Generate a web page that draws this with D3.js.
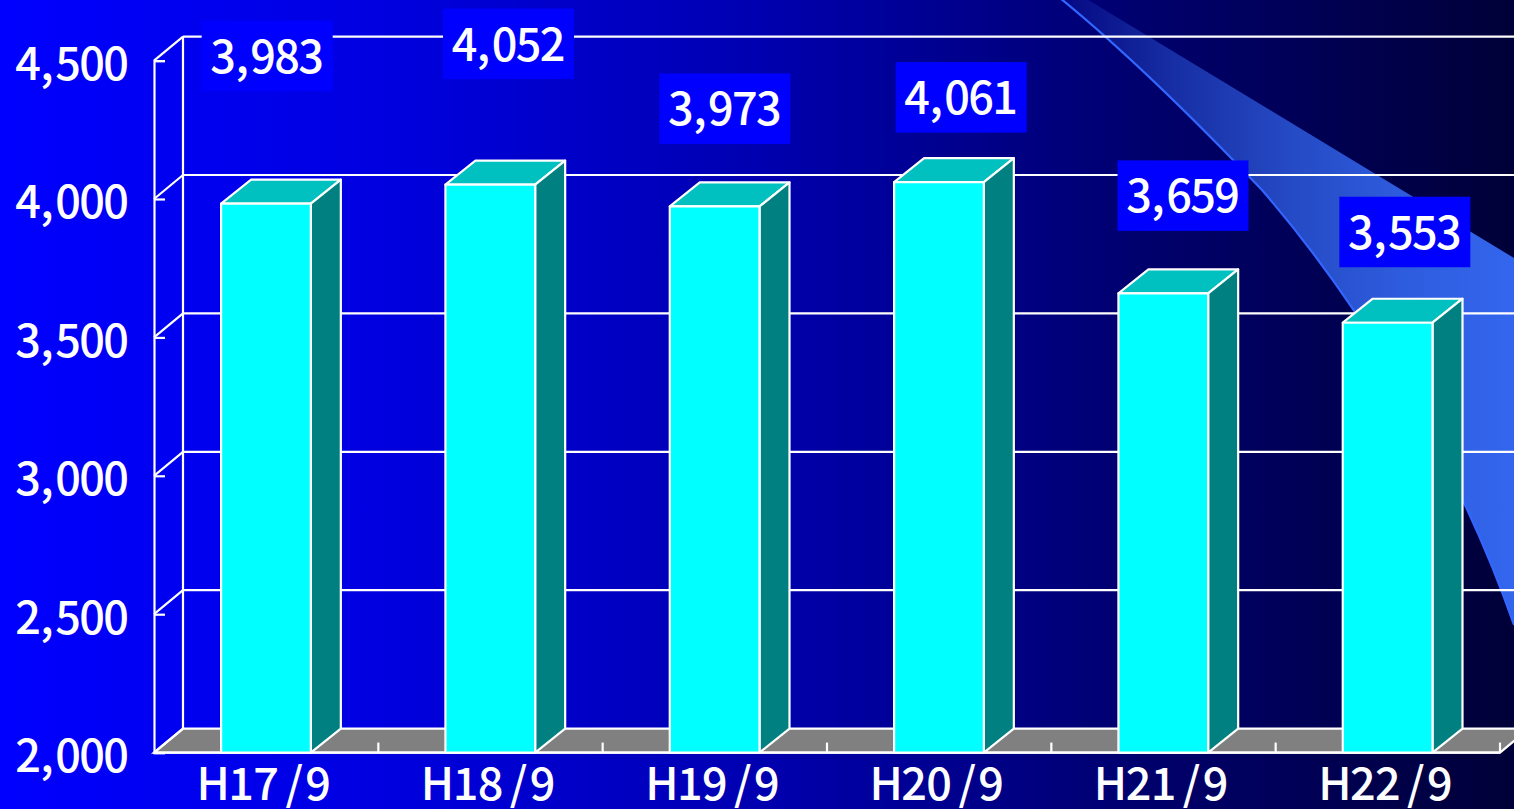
<!DOCTYPE html>
<html><head><meta charset="utf-8">
<script src="https://cdn.jsdelivr.net/npm/d3@7/dist/d3.min.js"></script>
<style>html,body{margin:0;padding:0;background:#000;overflow:hidden}svg{display:block}
text{font-family:"Noto Sans CJK JP","Noto Sans",sans-serif;fill:#fff;font-weight:500}</style></head>
<body><svg id="c" width="1514" height="809"></svg>
<script>
const categories = ["H17/9","H18/9","H19/9","H20/9","H21/9","H22/9"];
const values = [3983,4052,3973,4061,3659,3553];
const yTicks = [2000,2500,3000,3500,4000,4500];
// vertical distance from bar top to its label box, and box centre shift from the bar centre (hand-placed in the original)
const labelRise = [183,176,133,120,133,126];
const labelShift = [1,18,10,22,19.5,17];
// glyph centres relative to the text centre (fixed-pitch look of the original face)
const numberPitch = [-44,-25,-4,20,44];
const categoryPitch = [-53,-25,0,28,52];

const W=1514,H=809, depthX=29, barDepthX=30, depthY=24;
const svg=d3.select("#c");
const x=d3.scaleBand().domain(categories).range([154,1500]).paddingInner(0.6).paddingOuter(0.3);
const y=d3.scaleLinear().domain([2000,4500]).range([752.6,60.6]);
const fmt=d3.format(",");
const defs=svg.append("defs");
const bg=defs.append("linearGradient").attr("id","bg");
[[0,"#0000ff"],[0.25,"#0000e0"],[0.5,"#0000b0"],[0.75,"#00006e"],[1,"#000038"]].forEach(d=>bg.append("stop").attr("offset",d[0]).attr("stop-color",d[1]));
const sw=defs.append("linearGradient").attr("id","sw").attr("gradientUnits","userSpaceOnUse").attr("x1",1060).attr("x2",1514).attr("y1",0).attr("y2",0);
[[0,0.08],[0.25,0.45],[0.5,0.72],[0.75,0.9],[1,1]].forEach(d=>sw.append("stop").attr("offset",d[0]).attr("stop-color","#3366ee").attr("stop-opacity",d[1]));
svg.append("rect").attr("width",W).attr("height",H).attr("fill","url(#bg)");

// decorative swoosh
const lower="M1060,-2 C1130,55 1200,125 1262,190 C1340,280 1450,440 1514,625";
svg.append("path").attr("d",lower+" L1514,258 L1085,-2 Z").attr("fill","url(#sw)");
svg.append("path").attr("d",lower).attr("fill","none").attr("stroke","#3366ff").attr("stroke-width",2.2);

const line="#fff", lw=2.2;
const L=x.range()[0], R=x.range()[1];
const pitched=(sel,cx,pitch)=>sel.attr("text-anchor","middle").attr("x",pitch.map(p=>cx+p).join(" "));
// floor
svg.append("polygon").attr("fill","#808080").attr("stroke",line).attr("stroke-width",lw)
  .attr("points",[[L,y(2000)],[L+depthX,y(2000)-depthY],[R+depthX,y(2000)-depthY],[R,y(2000)]].join(" "));
// back grid + side wall
svg.append("g").selectAll("line").data(yTicks.slice(1)).join("line")
  .attr("x1",L+depthX).attr("x2",W).attr("y1",d=>y(d)-depthY).attr("y2",d=>y(d)-depthY).attr("stroke","#fff").attr("stroke-width",lw);
svg.append("g").selectAll("line").data(yTicks).join("line")
  .attr("x1",L).attr("x2",L+depthX).attr("y1",d=>y(d)).attr("y2",d=>y(d)-depthY).attr("stroke",line).attr("stroke-width",lw);
svg.append("line").attr("x1",L+depthX).attr("x2",L+depthX).attr("y1",y(4500)-depthY).attr("y2",y(2000)-depthY).attr("stroke",line).attr("stroke-width",lw);

// axes
const ya=svg.append("g").attr("transform",`translate(${L},0)`).call(d3.axisLeft(y).tickValues(yTicks).tickFormat(fmt).tickSize(-11).tickPadding(26));
ya.select(".domain").attr("stroke",line).attr("stroke-width",lw);
ya.selectAll(".tick line").attr("stroke",line).attr("stroke-width",lw);
ya.selectAll("text").attr("font-size",45).attr("dy","0.42em").style("font-family",'"Noto Sans CJK JP"').call(pitched,72-L,numberPitch);
const xa=svg.append("g").attr("transform",`translate(0,${y(2000)})`).call(d3.axisBottom(x).tickSize(0).tickPadding(18));
xa.select(".domain").remove();
xa.selectAll("text").attr("font-size",45).attr("dy","0.66em").style("font-family",'"Noto Sans CJK JP"').call(pitched,0,categoryPitch);
const step=x.step();
svg.append("line").attr("x1",L).attr("x2",R).attr("y1",y(2000)).attr("y2",y(2000)).attr("stroke",line).attr("stroke-width",lw);
svg.append("g").selectAll("line").data(categories).join("line")
  .attr("x1",(d,i)=>L+step*(i+1)).attr("x2",(d,i)=>L+step*(i+1)).attr("y1",y(2000)).attr("y2",y(2000)-10).attr("stroke",line).attr("stroke-width",lw);

// labels
const bw=x.bandwidth();
const data=categories.map((c,i)=>({c,v:values[i],rise:labelRise[i],shift:labelShift[i]}));
const lab=svg.append("g").selectAll("g").data(data).join("g")
  .attr("transform",d=>`translate(${x(d.c)+bw/2+d.shift},${y(d.v)-d.rise})`);
lab.append("rect").attr("x",-65.5).attr("y",0).attr("width",131).attr("height",70.5).attr("fill","#0000ff");
lab.append("text").attr("y",52).attr("font-size",45).call(pitched,0,numberPitch).text(d=>fmt(d.v));

// bars
const bars=svg.append("g").attr("transform","translate(-0.2,0)").selectAll("g").data(data).join("g");
const st=s=>s.attr("stroke","#fff").attr("stroke-width",lw).attr("stroke-linejoin","round");
bars.append("polygon").attr("fill","#00c0c0").call(st)
  .attr("points",d=>{const a=x(d.c),t=y(d.v);return [[a,t],[a+barDepthX,t-depthY],[a+bw+barDepthX,t-depthY],[a+bw,t]].join(" ")});
bars.append("polygon").attr("fill","#008080").call(st)
  .attr("points",d=>{const a=x(d.c)+bw,t=y(d.v),b=y(2000);return [[a,t],[a+barDepthX,t-depthY],[a+barDepthX,b-depthY],[a,b]].join(" ")});
bars.append("rect").attr("fill","#00ffff").call(st)
  .attr("x",d=>x(d.c)).attr("y",d=>y(d.v)).attr("width",bw).attr("height",d=>y(2000)-y(d.v));
</script></body></html>
